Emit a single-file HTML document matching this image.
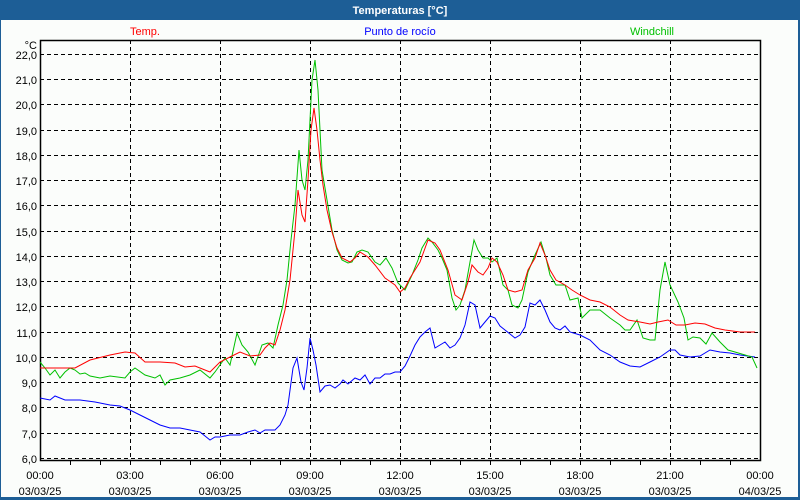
<!DOCTYPE html>
<html><head><meta charset="utf-8"><style>
html,body{margin:0;padding:0;background:#fff}
svg{display:block}
text{font-family:"Liberation Sans",sans-serif;font-size:11px}
</style></head><body>
<svg width="800" height="500" viewBox="0 0 800 500" xmlns="http://www.w3.org/2000/svg">
<rect x="0" y="0" width="800" height="500" fill="#1d5e96"/>
<rect x="1" y="20" width="797" height="477" fill="#fbfdfb"/>
<text x="400" y="14" text-anchor="middle" fill="#fff" font-weight="bold">Temperaturas [°C]</text>
<text x="145" y="35" text-anchor="middle" fill="#ff0000">Temp.</text>
<text x="400" y="35" text-anchor="middle" fill="#0000ff">Punto de rocío</text>
<text x="652" y="35" text-anchor="middle" fill="#00c000">Windchill</text>
<g stroke="#000" stroke-dasharray="4,3" stroke-width="1">
<line x1="40" x2="760" y1="54.5" y2="54.5"/><line x1="40" x2="760" y1="79.5" y2="79.5"/><line x1="40" x2="760" y1="104.5" y2="104.5"/><line x1="40" x2="760" y1="130.5" y2="130.5"/><line x1="40" x2="760" y1="155.5" y2="155.5"/><line x1="40" x2="760" y1="180.5" y2="180.5"/><line x1="40" x2="760" y1="205.5" y2="205.5"/><line x1="40" x2="760" y1="231.5" y2="231.5"/><line x1="40" x2="760" y1="256.5" y2="256.5"/><line x1="40" x2="760" y1="281.5" y2="281.5"/><line x1="40" x2="760" y1="306.5" y2="306.5"/><line x1="40" x2="760" y1="332.5" y2="332.5"/><line x1="40" x2="760" y1="357.5" y2="357.5"/><line x1="40" x2="760" y1="382.5" y2="382.5"/><line x1="40" x2="760" y1="407.5" y2="407.5"/><line x1="40" x2="760" y1="433.5" y2="433.5"/><line x1="40" x2="760" y1="458.5" y2="458.5"/>
<line y1="40" y2="461" x1="130.5" x2="130.5"/><line y1="40" y2="461" x1="220.5" x2="220.5"/><line y1="40" y2="461" x1="310.5" x2="310.5"/><line y1="40" y2="461" x1="400.5" x2="400.5"/><line y1="40" y2="461" x1="490.5" x2="490.5"/><line y1="40" y2="461" x1="580.5" x2="580.5"/><line y1="40" y2="461" x1="670.5" x2="670.5"/>
</g>
<g stroke="#000" stroke-width="1">
<line x1="70.5" x2="70.5" y1="461" y2="465"/><line x1="100.5" x2="100.5" y1="461" y2="465"/><line x1="160.5" x2="160.5" y1="461" y2="465"/><line x1="190.5" x2="190.5" y1="461" y2="465"/><line x1="250.5" x2="250.5" y1="461" y2="465"/><line x1="280.5" x2="280.5" y1="461" y2="465"/><line x1="340.5" x2="340.5" y1="461" y2="465"/><line x1="370.5" x2="370.5" y1="461" y2="465"/><line x1="430.5" x2="430.5" y1="461" y2="465"/><line x1="460.5" x2="460.5" y1="461" y2="465"/><line x1="520.5" x2="520.5" y1="461" y2="465"/><line x1="550.5" x2="550.5" y1="461" y2="465"/><line x1="610.5" x2="610.5" y1="461" y2="465"/><line x1="640.5" x2="640.5" y1="461" y2="465"/><line x1="700.5" x2="700.5" y1="461" y2="465"/><line x1="730.5" x2="730.5" y1="461" y2="465"/>
<line x1="130.5" x2="130.5" y1="461" y2="465"/><line x1="220.5" x2="220.5" y1="461" y2="465"/><line x1="310.5" x2="310.5" y1="461" y2="465"/><line x1="400.5" x2="400.5" y1="461" y2="465"/><line x1="490.5" x2="490.5" y1="461" y2="465"/><line x1="580.5" x2="580.5" y1="461" y2="465"/><line x1="670.5" x2="670.5" y1="461" y2="465"/>
</g>
<rect x="40.5" y="40.5" width="720" height="420" fill="none" stroke="#000" stroke-width="1.5"/>
<g fill="#000" text-anchor="end">
<text x="37" y="49">°C</text>
<text x="37" y="59">22,0</text><text x="37" y="84">21,0</text><text x="37" y="109">20,0</text><text x="37" y="135">19,0</text><text x="37" y="160">18,0</text><text x="37" y="185">17,0</text><text x="37" y="210">16,0</text><text x="37" y="236">15,0</text><text x="37" y="261">14,0</text><text x="37" y="286">13,0</text><text x="37" y="311">12,0</text><text x="37" y="337">11,0</text><text x="37" y="362">10,0</text><text x="37" y="387">9,0</text><text x="37" y="412">8,0</text><text x="37" y="438">7,0</text><text x="37" y="463">6,0</text>
</g>
<g fill="#000" text-anchor="middle">
<text x="40" y="479">00:00</text><text x="40" y="495">03/03/25</text>
<text x="130" y="479">03:00</text><text x="130" y="495">03/03/25</text>
<text x="220" y="479">06:00</text><text x="220" y="495">03/03/25</text>
<text x="310" y="479">09:00</text><text x="310" y="495">03/03/25</text>
<text x="400" y="479">12:00</text><text x="400" y="495">03/03/25</text>
<text x="490" y="479">15:00</text><text x="490" y="495">03/03/25</text>
<text x="580" y="479">18:00</text><text x="580" y="495">03/03/25</text>
<text x="670" y="479">21:00</text><text x="670" y="495">03/03/25</text>
<text x="760" y="479">00:00</text><text x="760" y="495">04/03/25</text>
</g>
<polyline fill="none" stroke="#0000ff" stroke-width="1" points="40,398 50,400 55,396 65,400 80,400 95,402 110,405 120,406 130,410 140,415 150,420 160,425 170,428 180,428 190,430 200,432 205,436 210,440 215,437 220,437 230,435 240,435 248,432 255,430 260,433 265,430 275,430 280,425 285,415 288,405 293,368 297,358 301,382 304,390 307,368 310,338 313,350 316,365 320,392 325,386 330,385 335,388 340,384 343,380 348,384 355,378 360,380 365,375 370,384 375,378 380,378 385,374 390,374 395,372 400,372 405,366 410,356 415,345 420,337 425,332 430,328 435,348 440,345 445,342 450,348 455,345 460,338 465,325 470,302 475,305 480,328 485,322 490,316 495,318 500,326 505,330 510,334 515,338 520,335 525,327 530,303 535,305 540,300 545,310 550,322 555,328 560,330 565,326 570,332 580,335 590,340 600,350 610,355 620,362 630,366 640,367 650,362 660,357 670,350 675,350 680,355 690,357 700,356 710,350 720,352 730,353 740,355 755,357"/>
<polyline fill="none" stroke="#00c000" stroke-width="1" points="40,362 45,368 50,375 55,370 60,378 65,372 70,368 75,370 80,374 85,373 90,376 100,378 110,376 125,378 130,372 135,368 145,375 155,378 160,375 165,385 170,380 180,378 190,375 200,370 210,378 215,372 225,358 230,365 237,333 242,345 248,352 255,365 262,345 268,343 273,348 278,325 283,305 287,280 291,240 295,205 299,150 302,180 305,190 308,160 312,80 315,60 318,90 320,130 322,170 327,200 332,230 337,250 342,260 348,263 352,262 357,252 362,250 368,252 375,262 380,265 386,258 392,268 398,283 405,290 412,275 418,260 422,248 428,238 432,242 438,250 442,258 447,270 452,298 456,310 460,305 465,290 470,262 474,240 478,250 483,258 488,258 492,262 497,258 503,285 508,290 512,305 518,308 522,300 528,272 535,255 541,242 546,258 550,275 556,285 565,285 570,300 578,298 582,318 590,310 600,310 610,318 620,325 625,330 630,330 637,320 643,338 650,340 655,340 660,290 665,262 670,285 678,302 684,318 688,340 693,337 700,338 706,344 712,333 720,342 728,350 735,352 745,355 752,357 757,368"/>
<polyline fill="none" stroke="#ff0000" stroke-width="1" points="40,368 60,368 75,368 90,360 110,355 125,352 135,353 145,362 160,362 175,363 185,367 195,366 210,372 220,362 232,356 240,352 250,356 260,355 265,348 270,343 275,345 280,330 285,310 290,280 295,230 298,190 302,215 305,222 308,180 311,130 314,108 317,130 320,160 323,185 327,210 332,232 337,248 342,258 350,262 355,258 360,252 368,257 375,265 385,278 395,285 400,292 405,288 410,278 420,262 428,240 435,243 440,250 448,270 455,295 462,300 468,282 472,265 478,272 483,275 488,268 492,258 497,262 503,275 508,290 515,292 522,290 528,270 535,258 540,243 545,255 550,270 556,280 565,285 572,290 580,295 590,300 600,302 610,307 620,315 628,320 640,322 650,324 658,322 668,320 676,325 685,325 695,323 705,324 715,328 725,330 740,332 755,332"/>
</svg>
</body></html>
